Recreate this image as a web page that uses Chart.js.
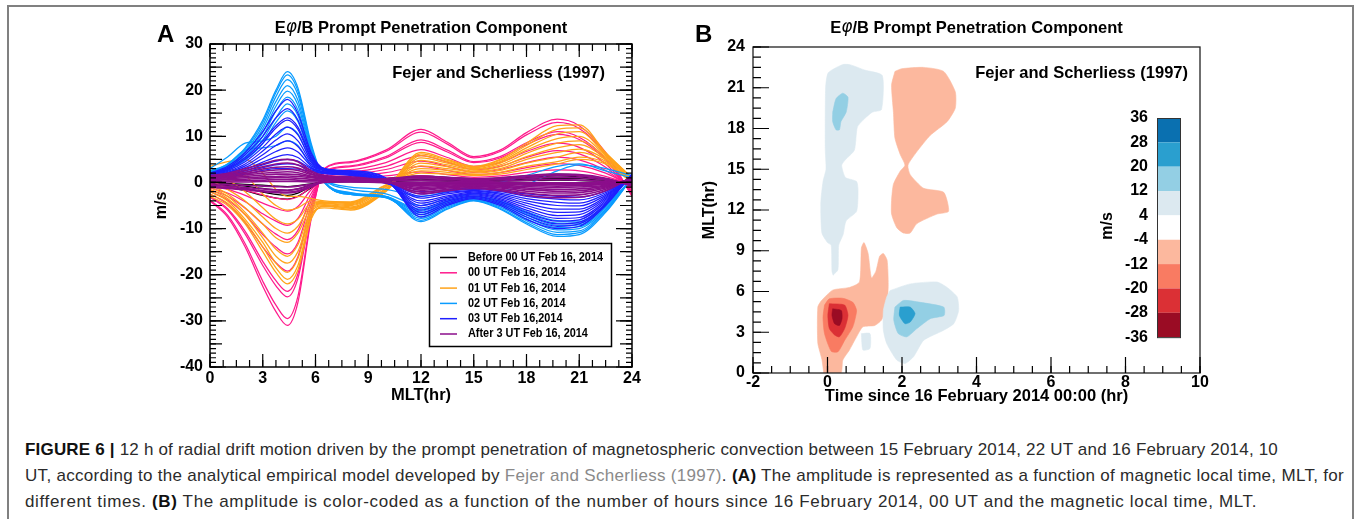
<!DOCTYPE html>
<html>
<head>
<meta charset="utf-8">
<script src="https://cdn.jsdelivr.net/npm/chart.js@4.4.1/dist/chart.umd.min.js"></script>
<style>
body { margin:0; background:#fff; width:1356px; height:519px; overflow:hidden; position:relative; font-family:"Liberation Sans", Arial, sans-serif; }
#frame { position:absolute; left:7px; top:5px; width:1347px; height:600px; box-sizing:border-box; border:2px solid #808080; }
#cA { position:absolute; left:0; top:0; }
#cB { position:absolute; left:680px; top:0; }
#caption { position:absolute; left:25px; top:437px; font-size:17px; line-height:26px; color:#2b2b2b; white-space:nowrap; }
#caption .ln { width:max-content; }
#caption b { color:#111; }
#caption .ref { color:#8a8a8a; }
</style>
</head>
<body>
<div id="frame"></div>
<canvas id="cA" width="680" height="410"></canvas>
<canvas id="cB" width="676" height="410"></canvas>
<div id="caption">
<div class="ln" data-right="1278"><b>FIGURE 6</b> <b>|</b> 12 h of radial drift motion driven by the prompt penetration of magnetospheric convection between 15 February 2014, 22 UT and 16 February 2014, 10</div>
<div class="ln" data-right="1344">UT, according to the analytical empirical model developed by <span class="ref">Fejer and Scherliess (1997)</span>. <b>(A)</b> The amplitude is represented as a function of magnetic local time, MLT, for</div>
<div class="ln" data-right="1257">different times. <b>(B)</b> The amplitude is color-coded as a function of the number of hours since 16 February 2014, 00 UT and the magnetic local time, MLT.</div>
</div>
<script>
// ---------- panel A : drift amplitude vs MLT ----------
const mlt = [0, 1, 2, 3, 3.75, 4.4, 5, 5.75, 6.5, 8, 10, 12, 13.5, 15, 16.5, 18, 19.75, 21, 22.5, 24];

const legendLabels = ['Before 00 UT Feb 16, 2014', '00 UT Feb 16, 2014', '01 UT Feb 16, 2014',
  '02 UT Feb 16, 2014', '03 UT Feb 16,2014', 'After 3 UT Feb 16, 2014'];
const groupColors = ['#000000', '#ff1a8c', '#ffa31a', '#0a9cff', '#1f1fff', '#8b0e8b'];

const blackCurves = [
  [-0.5, -1, -1.8, -2.8, -3.4, -3.6, -3.0, -1.2, 0.4, 0.6, 0.9, 1.4, 1.1, 0.8, 1.0, 1.4, 1.8, 1.6, 0.8, -0.4],
  [-0.3, -0.7, -1.3, -2.1, -2.6, -2.8, -2.3, -0.9, 0.3, 0.5, 0.7, 1.1, 0.9, 0.6, 0.8, 1.1, 1.4, 1.2, 0.6, -0.3],
  [-0.2, -0.4, -0.8, -1.3, -1.6, -1.7, -1.4, -0.5, 0.2, 0.3, 0.4, 0.7, 0.5, 0.4, 0.5, 0.7, 0.9, 0.8, 0.4, -0.2],
  [0, -0.2, -0.4, -0.6, -0.8, -0.9, -0.7, -0.3, 0.1, 0.2, 0.2, 0.4, 0.3, 0.2, 0.3, 0.4, 0.5, 0.4, 0.2, 0]
];
const magentaCurves = [
  [-4, -7.5, -14, -22.5, -28, -31, -26, -8, 3, 4.5, 7, 11.5, 8.7, 5.6, 7, 10.8, 13.7, 12.3, 6.5, -3],
  [-3.8, -7.1, -13.3, -21.4, -26.6, -29.5, -24.7, -7.6, 2.9, 4.3, 6.7, 10.9, 8.3, 5.3, 6.7, 10.3, 13.0, 11.7, 6.2, -2.9],
  [-3.2, -6, -11.2, -18, -22.4, -24.8, -20.8, -6.4, 2.4, 3.6, 5.6, 9.2, 7, 4.5, 5.6, 8.6, 11, 9.8, 5.2, -2.4],
  [-3, -5.7, -10.6, -17.1, -21.3, -23.6, -19.8, -6.1, 2.3, 3.4, 5.3, 8.7, 6.6, 4.3, 5.3, 8.2, 10.4, 9.3, 4.9, -2.3],
  [-2.5, -4.7, -8.7, -14, -17.4, -19.2, -16.1, -5, 1.9, 2.8, 4.3, 7.1, 5.4, 3.5, 4.3, 6.7, 8.5, 7.6, 4, -1.9],
  [-2, -3.8, -7, -11.3, -14, -15.5, -13, -4, 1.5, 2.3, 3.5, 5.8, 4.4, 2.8, 3.5, 5.4, 6.9, 6.2, 3.3, -1.5],
  [-1.6, -3, -5.6, -9, -11.2, -12.4, -10.4, -3.2, 1.2, 1.8, 2.8, 4.6, 3.5, 2.2, 2.8, 4.3, 5.5, 4.9, 2.6, -1.2],
  [-1.2, -2.3, -4.2, -6.8, -8.4, -9.3, -7.8, -2.4, 0.9, 1.4, 2.1, 3.5, 2.6, 1.7, 2.1, 3.2, 4.1, 3.7, 2, -0.9],
  [-0.8, -1.5, -2.8, -4.5, -5.6, -6.2, -5.2, -1.6, 0.6, 0.9, 1.4, 2.3, 1.7, 1.1, 1.4, 2.2, 2.7, 2.5, 1.3, -0.6],
  [-0.5, -0.9, -1.7, -2.7, -3.4, -3.7, -3.1, -1, 0.4, 0.5, 0.8, 1.4, 1, 0.7, 0.8, 1.3, 1.6, 1.5, 0.8, -0.4]
];
const orangeCurves = [
  [-3, -5, -9, -15, -19.5, -22, -19, -8, -5, -5.5, -1.5, 6.5, 5, 3.5, 5, 8.5, 12.3, 12.5, 6.5, 1],
  [-2.5, -4.5, -8.5, -14, -18.5, -21, -18, -7.5, -5.2, -5.8, -1.8, 6.2, 4.8, 3.3, 4.8, 8, 11.5, 11.8, 6.3, 1],
  [-2, -4, -8, -13, -17.5, -19.5, -16.5, -7, -5.5, -6, -2, 5.8, 4.5, 3.2, 4.5, 7.5, 10.5, 11, 6, 0.8],
  [-1.5, -3.5, -7, -12, -16, -17.5, -15, -6.5, -5, -5.6, -1.8, 5.3, 4.2, 3, 4.2, 7, 9.5, 10, 5.8, 0.8],
  [-1, -3, -6.5, -11, -14.5, -16, -13.5, -6, -4.8, -5.3, -1.5, 4.8, 3.8, 2.8, 3.8, 6.3, 8.5, 9, 5.5, 0.6],
  [-0.5, -2.5, -5.5, -9, -12, -13, -11, -5.5, -4.6, -5, -1.3, 4.2, 3.4, 2.5, 3.4, 5.6, 7.5, 8.2, 5.2, 0.5],
  [0.5, -1.5, -4, -7.5, -10, -11, -9.5, -5, -4.5, -4.8, -1, 3.6, 3, 2.3, 3, 5, 6.5, 7.2, 5, 0.5],
  [1.5, 0.5, -2, -5.5, -8, -9, -8, -4.5, -4.3, -4.6, -0.8, 3, 2.6, 2, 2.6, 4.2, 5.5, 6.5, 4.6, 0.3],
  [2.5, 3, 1.5, -2.5, -5, -6, -5.5, -4, -4.2, -4.4, -0.6, 2.5, 2.2, 1.7, 2.2, 3.5, 4.5, 5.5, 4.3, 0.2],
  [3.5, 4.5, 5, 2, -1.5, -3, -3, -3.5, -4, -4.2, -0.5, 2, 1.8, 1.5, 1.8, 2.8, 4, 5, 4, 0]
];
const skyCurves = [
  [2.5, 4, 7.5, 13.5, 20, 24, 20.5, 8.5, 0.5, -2.5, -3, -8.5, -5.8, -4, -5.8, -9, -11.7, -11.3, -6.5, 1],
  [2.4, 3.8, 7.2, 13, 19.5, 23.3, 19.8, 8, 0.4, -2.6, -3.1, -8.2, -5.6, -3.9, -5.6, -8.7, -11.3, -10.9, -6.3, 1],
  [2.2, 3.6, 6.8, 12.3, 18.6, 22.3, 19, 7.5, 0.3, -2.6, -3.2, -7.8, -5.3, -3.8, -5.3, -8.3, -10.8, -10.5, -6, 0.9],
  [2, 3.4, 6.4, 11.6, 17.5, 21, 17.8, 7, 0.2, -2.6, -3.3, -7.4, -5, -3.6, -5, -7.9, -10.3, -10, -5.8, 0.9],
  [1.9, 3.2, 6, 10.8, 16.5, 19.8, 16.8, 6.5, 0.1, -2.5, -3.3, -7, -4.8, -3.5, -4.8, -7.5, -9.8, -9.6, -5.5, 0.8],
  [1.8, 3, 5.6, 10, 15.5, 18.5, 15.7, 6, 0, -2.4, -3.2, -6.6, -4.5, -3.3, -4.5, -7.1, -9.3, -9.2, -5.2, 0.8],
  [1.6, 2.8, 5.2, 9.2, 14, 17, 14.5, 5.5, 0, -2.3, -3.1, -6.2, -4.2, -3.1, -4.2, -6.7, -8.8, -8.8, -5, 0.7],
  [1.5, 2.6, 4.8, 8.4, 13, 15.5, 13.2, 5, 0, -2.2, -3, -5.8, -4, -3, -4, -6.3, -8.3, -8.4, -4.8, 0.7],
  [3, 5.5, 8.5, 9, 10, 12, 10.5, 4.5, 0.5, -1.5, -2.5, -5, -3.5, -2.5, -2, -0.5, 2.5, 3.8, 3, 1.5],
  [2, 4, 7, 7.5, 8, 9, 8, 3.5, 0.5, -1, -1.5, -3, -2, -1, 0, 1.5, 3.5, 4, 2.5, 1]
];
const blueCurves = [
  [2, 3.5, 6.5, 11, 15.5, 18, 15, 6.5, 3, 2.5, 1, -7.5, -5, -3.5, -5, -8, -10, -9.5, -5, 1.8],
  [1.9, 3.2, 6, 10, 14, 16, 13.5, 6, 3, 2.5, 0.8, -7, -4.7, -3.3, -4.7, -7.5, -9.5, -9, -4.8, 1.8],
  [1.8, 3, 5.4, 9, 12.3, 14, 12, 5.5, 3, 2.4, 0.6, -6.5, -4.4, -3.1, -4.4, -7, -9, -8.6, -4.6, 1.7],
  [1.7, 2.8, 5, 8.5, 11.8, 13.5, 11.5, 5.2, 2.9, 2.3, 0.5, -6, -4.1, -2.9, -4.1, -6.5, -8.4, -8.1, -4.3, 1.6],
  [1.6, 2.6, 4.5, 7.6, 10.5, 12, 10.3, 4.8, 2.8, 2.2, 0.4, -5.5, -3.8, -2.7, -3.8, -6, -7.8, -7.6, -4, 1.5],
  [1.5, 2.4, 4, 6.8, 9.2, 10.5, 9, 4.4, 2.7, 2.1, 0.3, -5, -3.5, -2.5, -3.5, -5.5, -7.2, -7, -3.7, 1.4],
  [1.4, 2.2, 3.6, 6, 8, 9, 7.8, 4, 2.6, 2, 0.2, -4.5, -3.2, -2.3, -3.2, -5, -6.5, -6.4, -3.4, 1.3],
  [1.2, 2, 3.2, 5.2, 6.7, 7.5, 6.6, 3.6, 2.5, 1.9, 0.1, -4, -2.9, -2.1, -2.9, -4.5, -5.8, -5.8, -3.1, 1.2],
  [1.1, 1.8, 2.8, 4.4, 5.5, 6, 5.4, 3.2, 2.3, 1.8, 0, -3.4, -2.5, -1.9, -2.6, -4, -5, -5.1, -2.8, 1.1],
  [1, 1.6, 2.5, 3.8, 4.6, 5, 4.6, 3, 2.2, 1.7, 0, -3, -2.2, -1.7, -2.3, -3.5, -4.3, -4.5, -2.5, 1],
  [0.9, 1.4, 2.2, 3.2, 3.8, 4, 3.8, 2.7, 2, 1.6, -0.1, -2.5, -1.9, -1.5, -2, -3, -3.6, -3.8, -2.2, 0.9],
  [0.8, 1.2, 1.8, 2.6, 3, 3, 2.9, 2.4, 1.9, 1.5, -0.2, -2, -1.6, -1.2, -1.7, -2.5, -3, -3.2, -1.9, 0.8]
];
const purpleCurves = [
  [1.5, 2, 3, 4, 4.8, 5, 4.5, 2.5, 1.5, 1.2, 0.3, -2.5, -1.8, -1.3, -1.8, -2.8, -3.3, -3.2, -1.8, 1.2],
  [1.3, 1.8, 2.6, 3.4, 4, 4.2, 3.8, 2.2, 1.3, 1, 0.2, -2.1, -1.5, -1.1, -1.5, -2.3, -2.8, -2.7, -1.5, 1.1],
  [1.2, 1.6, 2.2, 2.9, 3.3, 3.4, 3.1, 1.9, 1.2, 0.9, 0.2, -1.7, -1.2, -0.9, -1.2, -1.9, -2.3, -2.2, -1.2, 1],
  [1, 1.4, 1.9, 2.4, 2.7, 2.8, 2.6, 1.7, 1.1, 0.8, 0.1, -1.4, -1, -0.7, -1, -1.5, -1.9, -1.8, -1, 0.9],
  [0.9, 1.2, 1.6, 2, 2.2, 2.3, 2.1, 1.4, 1, 0.7, 0.1, -1.1, -0.8, -0.6, -0.8, -1.2, -1.5, -1.4, -0.8, 0.8],
  [0.8, 1, 1.3, 1.6, 1.8, 1.8, 1.7, 1.2, 0.9, 0.6, 0, -0.8, -0.6, -0.4, -0.6, -0.9, -1.1, -1, -0.6, 0.7],
  [0.6, 0.8, 1, 1.2, 1.3, 1.4, 1.3, 1, 0.7, 0.5, 0, -0.6, -0.4, -0.3, -0.4, -0.6, -0.8, -0.7, -0.4, 0.5],
  [0.4, 0.6, 0.7, 0.9, 1, 1, 0.9, 0.7, 0.5, 0.4, 0, -0.4, -0.3, -0.2, -0.3, -0.4, -0.5, -0.5, -0.3, 0.4],
  [0.2, 0.3, 0.4, 0.5, 0.6, 0.6, 0.5, 0.4, 0.3, 0.2, 0, -0.2, -0.1, -0.1, -0.1, -0.2, -0.3, -0.3, -0.1, 0.2],
  [0, 0.1, 0.1, 0.2, 0.2, 0.2, 0.2, 0.1, 0.1, 0.1, 0, 0, 0, 0, 0, 0, -0.1, -0.1, 0, 0],
  [-0.3, -0.4, -0.6, -0.8, -0.9, -1, -0.8, -0.4, 0, 0.2, 0.3, 0.4, 0.3, 0.2, 0.3, 0.5, 0.6, 0.5, 0.2, -0.2],
  [-0.6, -0.8, -1.1, -1.4, -1.6, -1.7, -1.4, -0.6, 0.1, 0.3, 0.5, 0.8, 0.6, 0.4, 0.6, 0.9, 1.1, 1, 0.5, -0.4],
  [-0.9, -1.1, -1.4, -1.8, -2, -2.1, -1.8, -0.8, 0.2, 0.4, 0.7, 1.1, 0.9, 0.6, 0.8, 1.2, 1.5, 1.4, 0.7, -0.6],
  [-1.1, -1.3, -1.6, -2, -2.2, -2.3, -2, -1, 0.2, 0.5, 0.8, 1.4, 1.1, 0.8, 1, 1.5, 1.8, 1.7, 0.9, -0.8]
];
const curveGroups = [blackCurves, magentaCurves, orangeCurves, skyCurves, blueCurves, purpleCurves];

// ---------- panel B : contour regions (time since 16 Feb 00 UT [h], MLT [h]) ----------
const cbLevels = [36, 28, 20, 12, 4, -4, -12, -20, -28, -36];
const cbColors = ['#0a70b0', '#2a9fcf', '#93cfe4', '#dce9f0', '#ffffff', '#fcb89e', '#f97b62', '#db3035', '#9a0c24'];

const upperLight = [[0.15,7.2],[0.28,7.6],[0.3,9.4],[0.42,10.2],[0.5,11.2],[0.78,11.9],[0.82,13.4],[0.78,14.1],[0.48,14.4],[0.38,15.3],[0.48,15.7],[0.72,16.4],[0.8,18.1],[0.95,18.6],[1.2,19.2],[1.45,19.4],[1.47,21.9],[1.0,22.3],[0.6,22.7],[0.4,22.7],[0.02,22.1],[-0.05,21.0],[-0.06,16.5],[-0.04,15.0],[-0.12,14.1],[-0.18,12.5],[-0.15,10.3],[0.0,9.6],[0.1,9.4],[0.12,7.5]];
const upperMid = [[0.14,19.2],[0.23,20.2],[0.41,20.6],[0.55,20.3],[0.5,19.2],[0.36,18.5],[0.32,17.9],[0.23,17.9],[0.14,18.5]];
const upperSalmon = [[1.81,22.2],[1.99,22.4],[2.58,22.5],[3.12,22.2],[3.43,20.7],[3.43,19.5],[3.21,18.5],[2.76,17.5],[2.4,16.3],[2.16,15.3],[2.22,14.6],[2.58,13.6],[3.12,13.3],[3.25,11.9],[2.94,11.7],[2.4,11.0],[2.22,10.3],[2.04,10.3],[1.86,10.7],[1.72,11.7],[1.72,12.7],[1.77,13.9],[1.95,14.85],[2.08,15.3],[1.95,16.1],[1.81,17.3],[1.77,19.2],[1.72,21.2]];
const lowerSalmon = [[-0.1,0],[0.36,0],[0.41,0.95],[0.59,1.7],[0.78,2.66],[0.95,3.4],[1.27,3.5],[1.45,3.9],[1.59,4.85],[1.63,6.5],[1.6,8.3],[1.5,8.8],[1.4,8.6],[1.3,7.5],[1.18,7.0],[1.09,8.8],[0.98,9.6],[0.91,9.2],[0.86,6.7],[0.59,6.3],[0.14,6.1],[-0.17,5.3],[-0.26,4.85],[-0.26,2.2],[-0.15,1.0]];
const redCore = [[-0.08,5.0],[0.05,5.46],[0.41,5.5],[0.68,5.2],[0.78,4.6],[0.68,3.4],[0.46,2.4],[0.28,1.56],[0.1,1.6],[-0.08,2.9],[-0.12,4.1]];
const darkRedCore = [[0.05,5.1],[0.46,5.0],[0.55,4.24],[0.46,3.27],[0.32,2.66],[0.19,2.8],[0.05,3.27],[0.01,4.24]];
const deepRedCore = [[0.14,4.73],[0.37,4.6],[0.39,4.0],[0.32,3.5],[0.19,3.63],[0.12,4.24]];
const lowerLight = [[1.68,6.07],[2.22,6.56],[2.94,6.7],[3.21,6.3],[3.48,5.6],[3.52,4.6],[3.39,3.63],[3.12,3.15],[2.58,2.4],[2.31,1.2],[2.08,0.7],[1.86,0.95],[1.59,2.17],[1.5,3.15],[1.5,4.6],[1.59,5.6]];
const smallLight = [[0.91,2.9],[1.14,2.9],[1.14,1.8],[0.95,1.7]];
const lowerMid = [[1.81,4.85],[2.04,5.34],[2.49,5.2],[3.12,4.85],[3.13,4.24],[2.76,4.0],[2.4,3.27],[2.13,2.66],[1.9,2.9],[1.78,3.88]];
const blueCore = [[1.95,4.85],[2.22,4.85],[2.35,4.37],[2.22,3.75],[2.08,3.63],[1.93,4.24]];

// region -> colour band index, drawn bottom to top
const regions = [
  [upperLight, 3], [upperMid, 2], [upperSalmon, 5], [lowerSalmon, 5], [redCore, 6],
  [darkRedCore, 7], [deepRedCore, 8], [lowerLight, 3], [smallLight, 3], [lowerMid, 2], [blueCore, 1]
];

const sourceNote = 'Fejer and Scherliess (1997)';
const FONT = '"Liberation Sans", Arial, sans-serif';
Chart.defaults.font.family = FONT;

function range(a, b, s) {
  const out = [];
  for (let v = a; v <= b + 1e-9; v += s) out.push(+v.toFixed(4));
  return out;
}
function drawTicks(ctx, a, scale, vals, len, side) {
  ctx.beginPath();
  vals.forEach(v => {
    const p = scale.getPixelForValue(v);
    if (side === 'bottom') { ctx.moveTo(p, a.bottom); ctx.lineTo(p, a.bottom - len); }
    if (side === 'top') { ctx.moveTo(p, a.top); ctx.lineTo(p, a.top + len); }
    if (side === 'left') { ctx.moveTo(a.left, p); ctx.lineTo(a.left + len, p); }
    if (side === 'right') { ctx.moveTo(a.right, p); ctx.lineTo(a.right - len, p); }
  });
  ctx.stroke();
}
function drawTitle(ctx, cx, cy) {
  const parts = [['E', 'bold 16.5px ' + FONT], ['\u03C6', 'italic 17px "DejaVu Sans", sans-serif'], ['/B Prompt Penetration Component', 'bold 16.5px ' + FONT]];
  let total = 0;
  parts.forEach(p => { ctx.font = p[1]; total += ctx.measureText(p[0]).width; });
  let x = cx - total / 2;
  ctx.textAlign = 'left'; ctx.textBaseline = 'middle';
  parts.forEach(p => { ctx.font = p[1]; ctx.fillText(p[0], x, cy); x += ctx.measureText(p[0]).width; });
}

const decoA = {
  id: 'decoA',
  afterDraw(chart) {
    const {ctx, chartArea: a, scales: {x, y}} = chart;
    ctx.save();
    ctx.strokeStyle = '#000';
    ctx.lineWidth = 1.5;
    ctx.strokeRect(a.left, a.top, a.right - a.left, a.bottom - a.top);
    ctx.lineWidth = 1.2;
    ['bottom', 'top'].forEach(s => {
      drawTicks(ctx, a, x, range(0, 24, 0.75), 7, s);
      drawTicks(ctx, a, x, range(0, 24, 3), 13, s);
    });
    ['left', 'right'].forEach(s => {
      drawTicks(ctx, a, y, range(-40, 30, 1), 6, s);
      drawTicks(ctx, a, y, range(-40, 30, 5), 12, s);
      drawTicks(ctx, a, y, range(-40, 30, 10), 16, s);
    });
    ctx.fillStyle = '#000';
    ctx.font = 'bold 24px ' + FONT;
    ctx.textAlign = 'left'; ctx.textBaseline = 'alphabetic';
    ctx.fillText('A', 157, 42);
    drawTitle(ctx, (a.left + a.right) / 2, 28);
    ctx.font = 'bold 16.5px ' + FONT;
    ctx.textAlign = 'right'; ctx.textBaseline = 'middle';
    ctx.fillText(sourceNote, a.right - 27, 73);
    // legend box
    ctx.fillStyle = '#fff';
    ctx.fillRect(429, 243, 183, 104);
    ctx.lineWidth = 1.5;
    ctx.strokeStyle = '#000';
    ctx.strokeRect(429.5, 243.5, 182, 103);
    ctx.font = 'bold 12.5px ' + FONT;
    const ref = ctx.measureText(legendLabels[0]).width;
    const squeeze = 135 / ref;
    ctx.textAlign = 'left';
    legendLabels.forEach((lab, i) => {
      const ly = 257.5 + i * 15.3;
      ctx.strokeStyle = groupColors[i];
      ctx.lineWidth = 1.5;
      ctx.beginPath(); ctx.moveTo(440, ly); ctx.lineTo(457, ly); ctx.stroke();
      ctx.fillStyle = '#000';
      ctx.fillText(lab, 468, ly, ctx.measureText(lab).width * squeeze);
    });
    ctx.restore();
  }
};

const dsA = [];
curveGroups.forEach((curves, g) => {
  curves.forEach(c => {
    dsA.push({
      data: c.map((v, i) => ({x: mlt[i], y: v})),
      borderColor: groupColors[g],
      borderWidth: g === 5 ? 1.6 : 1.25,
      pointRadius: 0,
      cubicInterpolationMode: 'monotone',
      fill: false
    });
  });
});
dsA.reverse(); // first dataset is painted last in Chart.js

new Chart(document.getElementById('cA'), {
  type: 'line',
  data: {datasets: dsA},
  options: {
    responsive: false, animation: false, devicePixelRatio: 1, events: [],
    layout: {padding: {left: 150, right: 48, top: 44, bottom: 0}},
    plugins: {legend: {display: false}, tooltip: {enabled: false}},
    scales: {
      x: {
        type: 'linear', min: 0, max: 24,
        grid: {display: false, drawTicks: false}, border: {display: false},
        ticks: {stepSize: 3, autoSkip: false, maxRotation: 0, padding: 2, color: '#000', font: {size: 16, weight: 'bold'}},
        title: {display: true, text: 'MLT(hr)', color: '#000', font: {size: 16.5, weight: 'bold'}, padding: {top: 0, bottom: 5}},
        afterFit(s) { s.height = 43; s.paddingLeft = 0; s.paddingRight = 0; }
      },
      y: {
        type: 'linear', min: -40, max: 30,
        grid: {display: false, drawTicks: false}, border: {display: false},
        ticks: {stepSize: 10, autoSkip: false, padding: 7, color: '#000', font: {size: 16, weight: 'bold'}},
        title: {display: true, text: 'm/s', color: '#000', font: {size: 16, weight: 'bold'}, padding: {top: 2, bottom: 0}},
        afterFit(s) { s.width = 60; s.paddingTop = 0; s.paddingBottom = 0; }
      }
    }
  },
  plugins: [decoA]
});

// ---------- panel B ----------
const decoB = {
  id: 'decoB',
  afterDraw(chart) {
    const {ctx, chartArea: a, scales: {x, y}} = chart;
    ctx.save();
    ctx.strokeStyle = '#222';
    ctx.lineWidth = 1.3;
    ctx.strokeRect(a.left, a.top, a.right - a.left, a.bottom - a.top);
    ctx.strokeStyle = '#000';
    ctx.lineWidth = 1.2;
    drawTicks(ctx, a, x, range(-2, 10, 0.5), 7, 'bottom');
    drawTicks(ctx, a, x, range(-2, 10, 2), 16, 'bottom');
    drawTicks(ctx, a, y, range(0, 24, 0.75), 8, 'left');
    drawTicks(ctx, a, y, range(0, 24, 3), 16, 'left');
    ctx.fillStyle = '#000';
    ctx.font = 'bold 24px ' + FONT;
    ctx.textAlign = 'left'; ctx.textBaseline = 'alphabetic';
    ctx.fillText('B', 15, 42);
    drawTitle(ctx, (a.left + a.right) / 2, 28);
    ctx.font = 'bold 16.5px ' + FONT;
    ctx.textAlign = 'right'; ctx.textBaseline = 'middle';
    ctx.fillText(sourceNote, a.right - 12, 73);
    // colour bar
    const bx = 477, bw = 23, top = 118, bh = 24.35;
    cbColors.forEach((c, i) => {
      ctx.fillStyle = c;
      ctx.fillRect(bx, top + i * bh, bw, bh);
    });
    ctx.strokeStyle = '#333';
    ctx.lineWidth = 1;
    ctx.strokeRect(bx + 0.5, top + 0.5, bw, bh * cbColors.length);
    ctx.fillStyle = '#000';
    ctx.font = 'bold 16px ' + FONT;
    ctx.textAlign = 'right'; ctx.textBaseline = 'middle';
    cbLevels.forEach((lv, i) => ctx.fillText(String(lv), 468, top + i * bh));
    ctx.save();
    ctx.translate(428, 226);
    ctx.rotate(-Math.PI / 2);
    ctx.textAlign = 'center';
    ctx.fillText('m/s', 0, 0);
    ctx.restore();
    ctx.restore();
  }
};

const dsB = regions.map(([pts, lv]) => ({
  data: pts.concat([pts[0]]).map(p => ({x: p[0], y: p[1]})),
  backgroundColor: cbColors[lv],
  borderColor: cbColors[lv],
  borderWidth: 0.6,
  pointRadius: 0,
  tension: 0.2,
  fill: 'shape'
}));
dsB.reverse();

new Chart(document.getElementById('cB'), {
  type: 'line',
  data: {datasets: dsB},
  options: {
    responsive: false, animation: false, devicePixelRatio: 1, events: [],
    layout: {padding: {left: 18, right: 156, top: 47, bottom: 0}},
    plugins: {legend: {display: false}, tooltip: {enabled: false}},
    scales: {
      x: {
        type: 'linear', min: -2, max: 10,
        grid: {display: false, drawTicks: false}, border: {display: false},
        ticks: {stepSize: 2, autoSkip: false, maxRotation: 0, padding: 0, color: '#000', font: {size: 16, weight: 'bold'}},
        title: {display: true, text: 'Time since 16 February 2014 00:00 (hr)', color: '#000', font: {size: 16.5, weight: 'bold'}, padding: {top: 0, bottom: 4}},
        afterFit(s) { s.height = 37; s.paddingLeft = 0; s.paddingRight = 0; }
      },
      y: {
        type: 'linear', min: 0, max: 24,
        grid: {display: false, drawTicks: false}, border: {display: false},
        ticks: {stepSize: 3, autoSkip: false, padding: 8, color: '#000', font: {size: 16, weight: 'bold'}},
        title: {display: true, text: 'MLT(hr)', color: '#000', font: {size: 16, weight: 'bold'}, padding: {top: 2, bottom: 0}},
        afterFit(s) { s.width = 55; s.paddingTop = 0; s.paddingBottom = 0; }
      }
    }
  },
  plugins: [decoB]
});

// caption lines: adjust letter spacing so each line ends where it does in the figure
document.querySelectorAll('#caption .ln').forEach(el => {
  const target = +el.dataset.right - 25;
  const w = el.getBoundingClientRect().width;
  const n = el.textContent.length;
  el.style.letterSpacing = ((target - w) / n).toFixed(3) + 'px';
});
</script>
</body>
</html>
